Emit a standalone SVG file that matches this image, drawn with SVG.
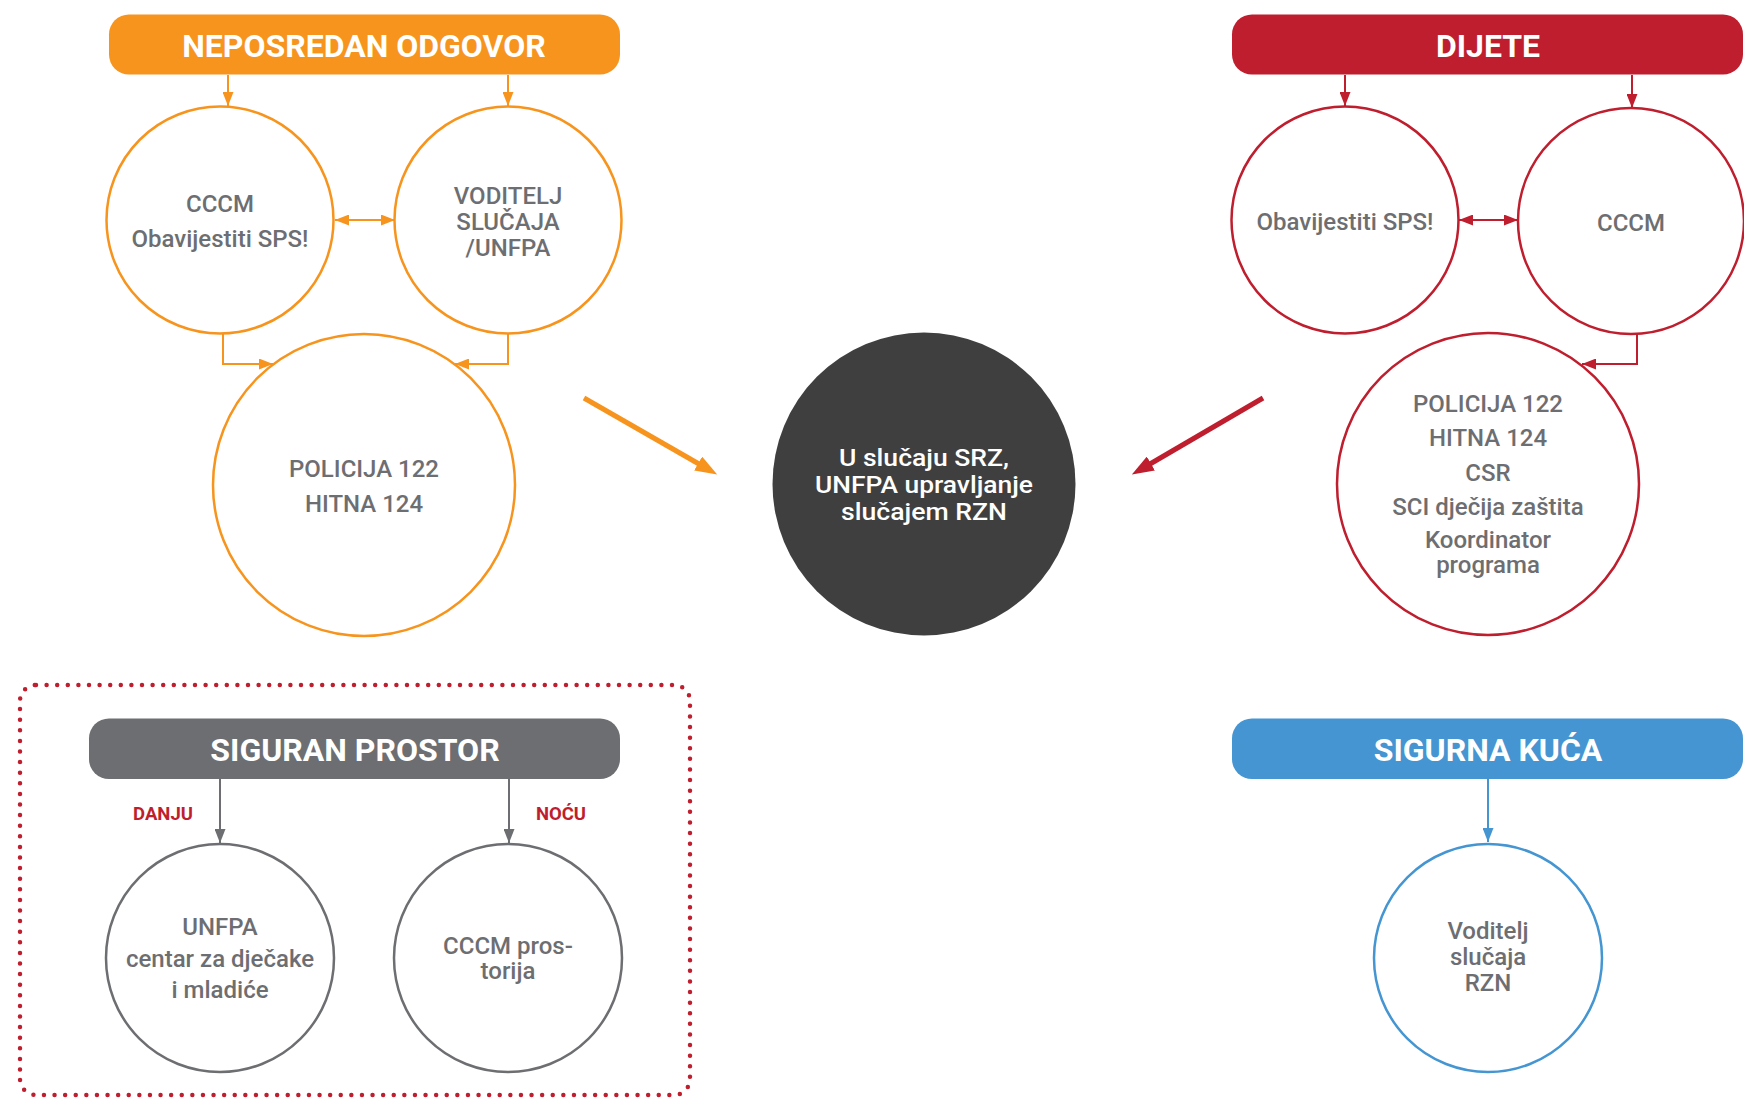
<svg xmlns="http://www.w3.org/2000/svg" width="1744" height="1098" viewBox="0 0 1744 1098">
<style>
text{font-family:Roboto,"Liberation Sans",sans-serif;text-anchor:middle}
.hdr{font-size:32px;font-weight:700;fill:#FFFFFF}
.t{font-size:24px;font-weight:500;fill:#6D6E71}
.tw{font-size:24px;font-weight:500;fill:#FFFFFF}
.lbl{font-size:18.5px;font-weight:700;fill:#BE1E2D}
.co{fill:#FFFFFF;stroke:#F7941D;stroke-width:2.5}
.cr{fill:#FFFFFF;stroke:#BE1E2D;stroke-width:2.5}
.cg{fill:#FFFFFF;stroke:#6D6E71;stroke-width:2.5}
.cb{fill:#FFFFFF;stroke:#4495D1;stroke-width:2.5}
.lo{fill:none;stroke:#F7941D;stroke-width:2}
.lr{fill:none;stroke:#BE1E2D;stroke-width:2}
.lg{fill:none;stroke:#6D6E71;stroke-width:2}
.lb{fill:none;stroke:#4495D1;stroke-width:2}
</style>
<defs>
<marker id="ao" markerUnits="userSpaceOnUse" markerWidth="14" markerHeight="11" refX="14" refY="5.5" orient="auto-start-reverse"><path d="M0,0 L14,5.5 L0,11 z" fill="#F7941D"/></marker>
<marker id="ar" markerUnits="userSpaceOnUse" markerWidth="14" markerHeight="11" refX="14" refY="5.5" orient="auto-start-reverse"><path d="M0,0 L14,5.5 L0,11 z" fill="#BE1E2D"/></marker>
<marker id="ag" markerUnits="userSpaceOnUse" markerWidth="14" markerHeight="11" refX="14" refY="5.5" orient="auto-start-reverse"><path d="M0,0 L14,5.5 L0,11 z" fill="#6D6E71"/></marker>
<marker id="ab" markerUnits="userSpaceOnUse" markerWidth="14" markerHeight="11" refX="14" refY="5.5" orient="auto-start-reverse"><path d="M0,0 L14,5.5 L0,11 z" fill="#4495D1"/></marker>
<marker id="aoB" markerUnits="userSpaceOnUse" markerWidth="22" markerHeight="16" refX="1" refY="8" orient="auto"><path d="M0,0 L22,8 L0,16 z" fill="#F7941D"/></marker>
<marker id="arB" markerUnits="userSpaceOnUse" markerWidth="22" markerHeight="16" refX="1" refY="8" orient="auto"><path d="M0,0 L22,8 L0,16 z" fill="#BE1E2D"/></marker>
</defs>

<rect x="20" y="685" width="670" height="410" rx="16" fill="none" stroke="#BE1E2D" stroke-width="4.5" stroke-linecap="round" stroke-dasharray="0 10.6"/>

<g id="connectors">
<line class="lo" x1="228" y1="75" x2="228" y2="106" marker-end="url(#ao)"/>
<line class="lo" x1="508" y1="75" x2="508" y2="106" marker-end="url(#ao)"/>
<line class="lo" x1="335" y1="220" x2="395" y2="220" marker-start="url(#ao)" marker-end="url(#ao)"/>
<polyline class="lo" points="223,333 223,364 273,364" marker-end="url(#ao)"/>
<polyline class="lo" points="508,333 508,364 455,364" marker-end="url(#ao)"/>
<line x1="584" y1="398" x2="699" y2="464" stroke="#F7941D" stroke-width="5" marker-end="url(#aoB)"/>

<line class="lr" x1="1345" y1="75" x2="1345" y2="106" marker-end="url(#ar)"/>
<line class="lr" x1="1632" y1="75" x2="1632" y2="108" marker-end="url(#ar)"/>
<line class="lr" x1="1459" y1="220" x2="1518" y2="220" marker-start="url(#ar)" marker-end="url(#ar)"/>
<polyline class="lr" points="1637,334 1637,364 1582,364" marker-end="url(#ar)"/>
<line x1="1263" y1="398" x2="1150" y2="464" stroke="#BE1E2D" stroke-width="5" marker-end="url(#arB)"/>

<line class="lg" x1="220" y1="779" x2="220" y2="843" marker-end="url(#ag)"/>
<line class="lg" x1="509" y1="779" x2="509" y2="843" marker-end="url(#ag)"/>
<line class="lb" x1="1488" y1="779" x2="1488" y2="842" marker-end="url(#ab)"/>
</g>

<g id="hdr-neposredan">
<rect x="109" y="14.5" width="511" height="60" rx="20" fill="#F7941D"/>
<text class="hdr" x="364" y="57">NEPOSREDAN ODGOVOR</text>
</g>
<g id="n-cccm-left">
<circle class="co" cx="220" cy="220" r="113.5"/>
<text class="t" x="220" y="212">CCCM</text>
<text class="t" x="220" y="247">Obavijestiti SPS!</text>
</g>
<g id="n-voditelj">
<circle class="co" cx="508" cy="220" r="113.5"/>
<text class="t" x="508" y="203.5">VODITELJ</text>
<text class="t" x="508" y="229.5">SLUČAJA</text>
<text class="t" x="508" y="255.5">/UNFPA</text>
</g>
<g id="n-policija-left">
<circle class="co" cx="364" cy="485" r="151"/>
<text class="t" x="364" y="477">POLICIJA 122</text>
<text class="t" x="364" y="512">HITNA 124</text>
</g>

<g id="n-center">
<circle cx="924" cy="484" r="151.5" fill="#3F3F3F"/>
<text class="tw" x="924" y="466" textLength="170" lengthAdjust="spacingAndGlyphs">U slučaju SRZ,</text>
<text class="tw" x="924" y="493" textLength="218" lengthAdjust="spacingAndGlyphs">UNFPA upravljanje</text>
<text class="tw" x="924" y="520" textLength="166" lengthAdjust="spacingAndGlyphs">slučajem RZN</text>
</g>

<g id="hdr-dijete">
<rect x="1232" y="14.5" width="511" height="60" rx="20" fill="#BE1E2D"/>
<text class="hdr" x="1488" y="57">DIJETE</text>
</g>
<g id="n-obavijestiti">
<circle class="cr" cx="1345" cy="220" r="113.5"/>
<text class="t" x="1345" y="230">Obavijestiti SPS!</text>
</g>
<g id="n-cccm-right">
<circle class="cr" cx="1631" cy="221" r="113"/>
<text class="t" x="1631" y="230.5">CCCM</text>
</g>
<g id="n-policija-right">
<circle class="cr" cx="1488" cy="484" r="151"/>
<text class="t" x="1488" y="411.5">POLICIJA 122</text>
<text class="t" x="1488" y="446">HITNA 124</text>
<text class="t" x="1488" y="481">CSR</text>
<text class="t" x="1488" y="515">SCI dječija zaštita</text>
<text class="t" x="1488" y="548">Koordinator</text>
<text class="t" x="1488" y="573">programa</text>
</g>

<g id="hdr-siguran">
<rect x="89" y="718.5" width="531" height="60.5" rx="20" fill="#6D6E71"/>
<text class="hdr" x="355" y="761">SIGURAN PROSTOR</text>
<text class="lbl" x="163" y="820">DANJU</text>
<text class="lbl" x="561" y="820">NOĆU</text>
</g>
<g id="n-unfpa-centar">
<circle class="cg" cx="220" cy="958" r="114"/>
<text class="t" x="220" y="935">UNFPA</text>
<text class="t" x="220" y="966.5">centar za dječake</text>
<text class="t" x="220" y="998">i mladiće</text>
</g>
<g id="n-cccm-prostorija">
<circle class="cg" cx="508" cy="958" r="114"/>
<text class="t" x="508" y="954">CCCM pros-</text>
<text class="t" x="508" y="979">torija</text>
</g>

<g id="hdr-sigurna-kuca">
<rect x="1232" y="718.5" width="511" height="60.5" rx="20" fill="#4495D1"/>
<text class="hdr" x="1488" y="761">SIGURNA KUĆA</text>
</g>
<g id="n-voditelj-rzn">
<circle class="cb" cx="1488" cy="958" r="114"/>
<text class="t" x="1488" y="939">Voditelj</text>
<text class="t" x="1488" y="965">slučaja</text>
<text class="t" x="1488" y="991">RZN</text>
</g>
</svg>
